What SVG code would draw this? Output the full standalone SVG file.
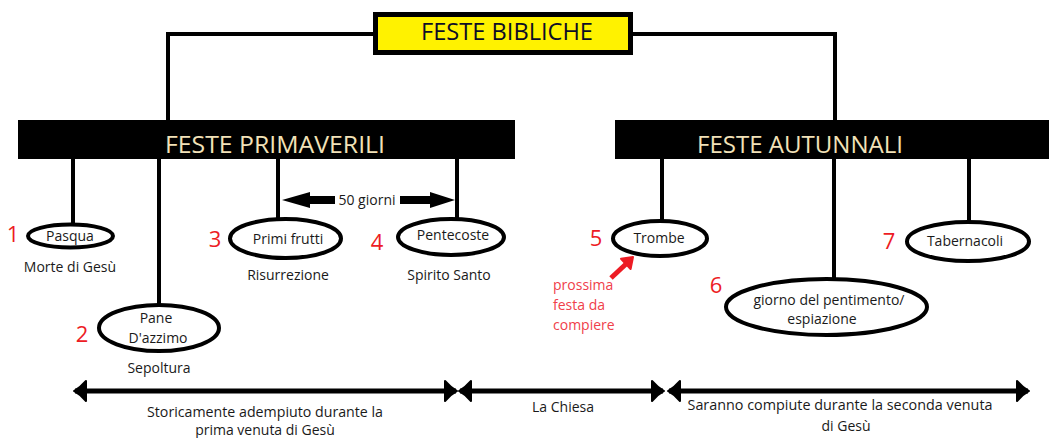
<svg xmlns="http://www.w3.org/2000/svg" width="1049" height="438" viewBox="0 0 1049 438">
<style>
.t{font-family:"Open Sans","Noto Sans","Liberation Sans",sans-serif;fill:#1a1a1a;font-size:14px;text-anchor:middle}
.num{font-family:"Open Sans","Liberation Sans",sans-serif;fill:#ED1C24;font-size:22px;text-anchor:middle}
.red{font-family:"Open Sans","Liberation Sans",sans-serif;fill:#F0404A;font-size:14px}
.bar{fill:#000}
.bartext{font-family:"Open Sans","Liberation Sans",sans-serif;fill:#F2E2B8;font-size:23px}
.ell{fill:#fff;stroke:#000;stroke-width:4}
.ln{stroke:#000;stroke-width:4;fill:none}
.dbl{stroke:#000;stroke-width:5;fill:none;marker-start:url(#ah);marker-end:url(#ah)}
</style>
<defs>
<marker id="ah" markerUnits="userSpaceOnUse" viewBox="-1 -12 15 24" refX="11" refY="0" markerWidth="15" markerHeight="24" orient="auto-start-reverse">
<path d="M0,-10 Q5,-4 12,0 Q5,4 0,10 Z" fill="#000" stroke="#000" stroke-width="2" stroke-linejoin="round"/>
</marker>
</defs>
<rect width="1049" height="438" fill="#fff"/>
<g id="connectors">
<path class="ln" d="M168,121 V34 H374"/>
<path class="ln" d="M632,34 H835 V121"/>
<line class="ln" x1="73" y1="158" x2="73" y2="225"/>
<line class="ln" x1="159" y1="158" x2="159" y2="305"/>
<line class="ln" x1="278" y1="158" x2="278" y2="219"/>
<line class="ln" x1="457" y1="158" x2="457" y2="219"/>
<line class="ln" x1="662" y1="158" x2="662" y2="221"/>
<line class="ln" x1="834" y1="158" x2="834" y2="279"/>
<line class="ln" x1="969" y1="158" x2="969" y2="222"/>
<polygon points="282,200 310,192 310,196 335,196 335,204 310,204 310,208" fill="#000"/>
<polygon points="455,200 430,192 430,196 400,196 400,204 430,204 430,208" fill="#000"/>
<text class="t" x="367" y="205">50 giorni</text>
<line class="dbl" x1="75" y1="391" x2="456" y2="391"/>
<line class="dbl" x1="460" y1="391" x2="663" y2="391"/>
<line class="dbl" x1="669" y1="391" x2="1028" y2="391"/>
<line x1="611" y1="278" x2="626" y2="264" stroke="#ED1C24" stroke-width="5"/>
<polygon points="633,257 630.6,269 621,258.8" fill="#ED1C24" stroke="#ED1C24" stroke-width="2" stroke-linejoin="round"/>
</g>
<g id="title">
<rect x="375.5" y="14.5" width="255" height="38" fill="#FFF200" stroke="#000" stroke-width="5"/>
<text x="507" y="40" font-family="'Open Sans','Liberation Sans',sans-serif" font-size="23.5" fill="#0d0d26" text-anchor="middle" textLength="172" lengthAdjust="spacingAndGlyphs">FESTE BIBLICHE</text>
</g>
<g id="primaverili">
<rect class="bar" x="18" y="120" width="497" height="39"/>
<text class="bartext" x="165" y="153" textLength="220" lengthAdjust="spacingAndGlyphs">FESTE PRIMAVERILI</text>
</g>
<g id="autunnali">
<rect class="bar" x="615" y="120" width="434" height="39"/>
<text class="bartext" x="697" y="153" textLength="206" lengthAdjust="spacingAndGlyphs">FESTE AUTUNNALI</text>
</g>
<g id="pasqua">
<ellipse class="ell" cx="70.5" cy="236" rx="42.5" ry="11.5"/>
<text class="t" x="70" y="241">Pasqua</text>
<text class="num" x="13" y="242">1</text>
<text class="t" x="70" y="272">Morte di Gesù</text>
</g>
<g id="pane">
<ellipse class="ell" cx="159" cy="328" rx="60" ry="23"/>
<text class="t" x="156" y="323">Pane</text>
<text class="t" x="158" y="343">D'azzimo</text>
<text class="num" x="82" y="342">2</text>
<text class="t" x="159" y="373">Sepoltura</text>
</g>
<g id="primi">
<ellipse class="ell" cx="285.5" cy="238.5" rx="55.5" ry="19.5"/>
<text class="t" x="288" y="244">Primi frutti</text>
<text class="num" x="215" y="247">3</text>
<text class="t" x="288" y="280">Risurrezione</text>
</g>
<g id="pentecoste">
<ellipse class="ell" cx="451" cy="237" rx="53" ry="18"/>
<text class="t" x="453" y="240">Pentecoste</text>
<text class="num" x="377" y="250">4</text>
<text class="t" x="449" y="280">Spirito Santo</text>
</g>
<g id="trombe">
<ellipse class="ell" cx="660" cy="238.5" rx="47" ry="17.5"/>
<text class="t" x="659" y="243">Trombe</text>
<text class="num" x="596" y="246">5</text>
<text class="red" x="553" y="290">prossima</text>
<text class="red" x="553" y="310">festa da</text>
<text class="red" x="553" y="330">compiere</text>
</g>
<g id="giorno">
<ellipse class="ell" cx="826.5" cy="307" rx="100.5" ry="28"/>
<text class="t" x="829" y="305">giorno del pentimento/</text>
<text class="t" x="822" y="324">espiazione</text>
<text class="num" x="716" y="293">6</text>
</g>
<g id="tabernacoli">
<ellipse class="ell" cx="968" cy="241.5" rx="61" ry="19.5"/>
<text class="t" x="965" y="246">Tabernacoli</text>
<text class="num" x="889" y="249">7</text>
</g>
<g id="periodi">
<text class="t" x="265" y="417" textLength="236" lengthAdjust="spacingAndGlyphs">Storicamente adempiuto durante la</text>
<text class="t" x="265" y="435">prima venuta di Gesù</text>
<text class="t" x="563" y="412">La Chiesa</text>
<text class="t" x="840" y="410" textLength="305" lengthAdjust="spacingAndGlyphs">Saranno compiute durante la seconda venuta</text>
<text class="t" x="846" y="431">di Gesù</text>
</g>
</svg>
